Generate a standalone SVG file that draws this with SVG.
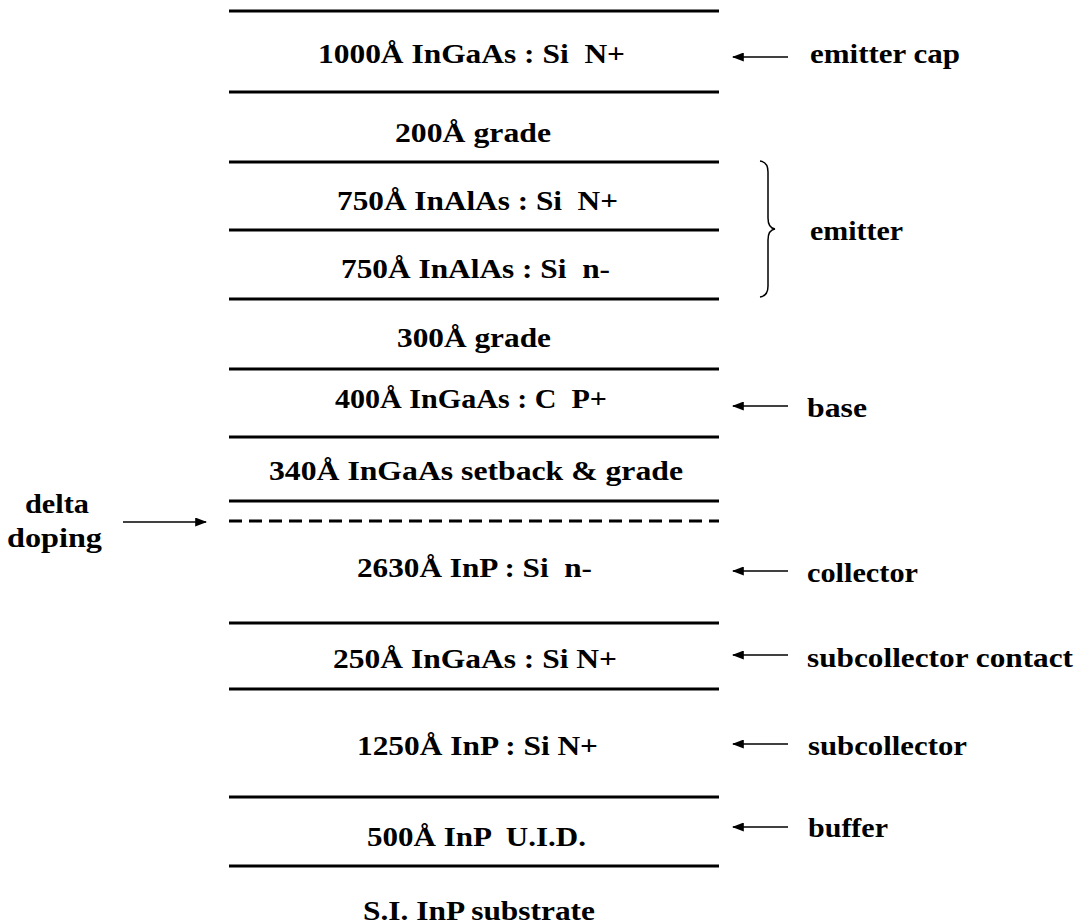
<svg xmlns="http://www.w3.org/2000/svg" width="1081" height="924" viewBox="0 0 1081 924">
<defs>
<style>
text{font-family:"Liberation Serif","Times New Roman",serif;font-weight:bold;font-size:27px;fill:#000;white-space:pre}
.ly{stroke:#000;stroke-width:3;fill:none}
.ar{stroke:#000;stroke-width:1.5;fill:none}
</style>
<marker id="ah" viewBox="0 0 10 10" refX="9" refY="5" markerWidth="12" markerHeight="9" markerUnits="userSpaceOnUse" orient="auto-start-reverse" preserveAspectRatio="none">
<path d="M0,0 L10,5 L0,10 Z" fill="#000"/>
</marker>
</defs>
<rect width="1081" height="924" fill="#fff"/>
<g id="layer-lines">
<line class="ly" x1="229" y1="11" x2="719" y2="11"/>
<line class="ly" x1="229" y1="92" x2="719" y2="92"/>
<line class="ly" x1="229" y1="162" x2="719" y2="162"/>
<line class="ly" x1="229" y1="230" x2="719" y2="230"/>
<line class="ly" x1="229" y1="299" x2="719" y2="299"/>
<line class="ly" x1="229" y1="369" x2="719" y2="369"/>
<line class="ly" x1="229" y1="437" x2="719" y2="437"/>
<line class="ly" x1="229" y1="501" x2="719" y2="501"/>
<line class="ly" x1="229" y1="521" x2="719" y2="521" stroke-dasharray="13 7"/>
<line class="ly" x1="229" y1="623" x2="719" y2="623"/>
<line class="ly" x1="229" y1="689" x2="719" y2="689"/>
<line class="ly" x1="229" y1="797" x2="719" y2="797"/>
<line class="ly" x1="229" y1="866" x2="719" y2="866"/>
</g>
<g id="layers">
<g id="l-emitter-cap"><text x="318" y="63" textLength="307" lengthAdjust="spacingAndGlyphs">1000Å InGaAs : Si  N+</text></g>
<g id="l-grade200"><text x="395" y="142" textLength="156" lengthAdjust="spacingAndGlyphs">200Å grade</text></g>
<g id="l-inalas-n"><text x="337" y="210" textLength="281" lengthAdjust="spacingAndGlyphs">750Å InAlAs : Si  N+</text></g>
<g id="l-inalas-nm"><text x="341" y="278" textLength="269" lengthAdjust="spacingAndGlyphs">750Å InAlAs : Si  n-</text></g>
<g id="l-grade300"><text x="397" y="347" textLength="154" lengthAdjust="spacingAndGlyphs">300Å grade</text></g>
<g id="l-base"><text x="335" y="408" textLength="272" lengthAdjust="spacingAndGlyphs">400Å InGaAs : C  P+</text></g>
<g id="l-setback"><text x="269" y="480" textLength="414" lengthAdjust="spacingAndGlyphs">340Å InGaAs setback &amp; grade</text></g>
<g id="l-collector"><text x="357" y="577" textLength="235" lengthAdjust="spacingAndGlyphs">2630Å InP : Si  n-</text></g>
<g id="l-subcoll-contact"><text x="333" y="668" textLength="284" lengthAdjust="spacingAndGlyphs">250Å InGaAs : Si N+</text></g>
<g id="l-subcoll"><text x="357" y="755" textLength="241" lengthAdjust="spacingAndGlyphs">1250Å InP : Si N+</text></g>
<g id="l-buffer"><text x="367" y="846" textLength="219" lengthAdjust="spacingAndGlyphs">500Å InP  U.I.D.</text></g>
<g id="l-substrate"><text x="363" y="920" textLength="232" lengthAdjust="spacingAndGlyphs">S.I. InP substrate</text></g>
</g>
<g id="labels">
<g id="lab-emitter-cap"><text x="810" y="63" textLength="150" lengthAdjust="spacingAndGlyphs">emitter cap</text></g>
<g id="lab-emitter"><text x="810" y="240" textLength="93" lengthAdjust="spacingAndGlyphs">emitter</text></g>
<g id="lab-base"><text x="807" y="417" textLength="60" lengthAdjust="spacingAndGlyphs">base</text></g>
<g id="lab-collector"><text x="807" y="582" textLength="111" lengthAdjust="spacingAndGlyphs">collector</text></g>
<g id="lab-subcoll-contact"><text x="807" y="667" textLength="266" lengthAdjust="spacingAndGlyphs">subcollector contact</text></g>
<g id="lab-subcoll"><text x="808" y="755" textLength="159" lengthAdjust="spacingAndGlyphs">subcollector</text></g>
<g id="lab-buffer"><text x="808" y="837" textLength="80" lengthAdjust="spacingAndGlyphs">buffer</text></g>
<g id="lab-delta"><text x="25" y="513" textLength="64" lengthAdjust="spacingAndGlyphs">delta</text><text x="7" y="547" textLength="95" lengthAdjust="spacingAndGlyphs">doping</text></g>
</g>
<g id="connectors">
<line class="ar" x1="788" y1="57" x2="733" y2="57" marker-end="url(#ah)"/>
<line class="ar" x1="788" y1="406" x2="733" y2="406" marker-end="url(#ah)"/>
<line class="ar" x1="788" y1="571" x2="733" y2="571" marker-end="url(#ah)"/>
<line class="ar" x1="788" y1="655" x2="733" y2="655" marker-end="url(#ah)"/>
<line class="ar" x1="788" y1="744" x2="733" y2="744" marker-end="url(#ah)"/>
<line class="ar" x1="788" y1="827" x2="733" y2="827" marker-end="url(#ah)"/>
<line class="ar" x1="123" y1="522" x2="206" y2="522" marker-end="url(#ah)"/>
<path class="ar" stroke-width="2" d="M760,161 Q768,162 768,172 L768,218 Q768,228 775,229 Q768,230 768,240 L768,286 Q768,296 760,297"/>
</g>
</svg>
